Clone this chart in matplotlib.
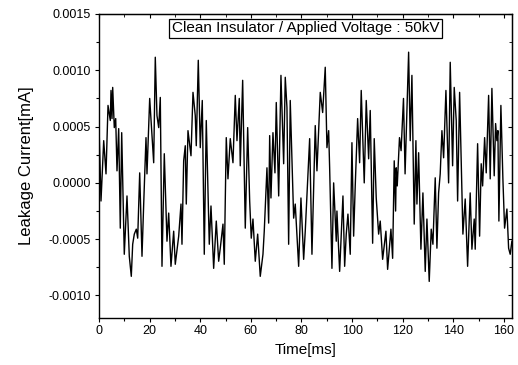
import matplotlib
matplotlib.use("Agg")
import matplotlib.pyplot as plt
from matplotlib.ticker import MultipleLocator, FormatStrFormatter

plt.rcParams['font.family'] = ['Liberation Sans', 'DejaVu Sans']
plt.rcParams['axes.unicode_minus'] = False

time_ms = [0.00, 0.79, 1.86, 2.77, 3.56, 4.46, 4.74, 5.14, 5.41, 6.04, 6.60, 7.11, 7.78, 8.41, 8.97,
           9.99, 11.06, 11.97, 12.76, 13.31, 13.95, 14.74, 15.29, 16.08, 16.99, 17.66, 18.57, 18.96,
           20.03, 21.61, 22.24, 22.91, 23.59, 24.22, 24.89, 25.80, 26.86, 27.54, 28.44, 29.51, 30.14,
           31.49, 32.40, 32.79, 33.46, 34.09, 34.49, 35.16, 36.35, 37.14, 38.04, 38.44, 39.23, 40.02,
           40.81, 41.60, 42.39, 43.58, 44.25, 45.31, 46.34, 47.29, 47.92, 48.99, 49.50, 50.29, 50.96,
           51.87, 52.94, 53.85, 54.52, 55.43, 55.82, 56.77, 57.80, 58.75, 59.54, 60.17, 60.84, 61.75,
           62.70, 63.72, 64.79, 65.30, 66.37, 67.04, 67.44, 67.95, 68.74, 69.53, 70.05, 71.00, 71.90,
           72.97, 73.60, 74.27, 74.94, 75.57, 76.92, 77.55, 78.89, 79.80, 80.87, 81.50, 83.24, 84.15,
           85.45, 86.12, 87.43, 88.38, 89.40, 90.07, 90.75, 91.14, 92.05, 92.72, 93.75, 94.02, 95.09,
           96.40, 97.07, 97.70, 98.37, 99.28, 99.95, 100.62, 101.25, 102.20, 102.99, 103.62, 104.81,
           105.60, 106.55, 107.18, 108.13, 108.76, 109.55, 110.50, 111.13, 112.08, 113.38, 114.05,
           115.36, 116.03, 116.66, 117.21, 117.45, 117.85, 118.74, 119.37, 120.32, 120.95, 122.35,
           122.98, 123.65, 124.56, 125.23, 125.63, 126.30, 127.21, 128.00, 128.91, 129.58, 130.49,
           131.28, 131.95, 132.86, 133.53, 134.20, 134.83, 135.51, 136.18, 137.09, 138.15, 138.79,
           139.73, 140.37, 141.16, 141.71, 142.50, 143.80, 144.71, 145.66, 146.68, 147.36, 148.27,
           148.66, 149.61, 150.40, 151.03, 151.59, 152.38, 153.01, 153.96, 154.59, 155.26, 156.17,
           156.72, 157.23, 157.63, 158.02, 158.81, 159.60, 160.27, 161.19, 161.86, 162.49, 163.16]

current_mA = [0.000509, -0.000161, 0.000375, 0.000080, 0.000688, 0.000554, 0.000821, 0.000571, 0.000848,
              0.000491, 0.000571, 0.000107, 0.000482, -0.000402, 0.000446, -0.000634, -0.000116,
              -0.000652, -0.000830, -0.000545, -0.000455, -0.000411, -0.000491, 0.000089, -0.000652,
              -0.000188, 0.000402, 0.000080, 0.000750, 0.000179, 0.001116, 0.000598, 0.000491,
              0.000759, -0.000741, 0.000259, -0.000518, -0.000268, -0.000741, -0.000429, -0.000723,
              -0.000473, -0.000188, -0.000545, 0.000196, 0.000330, -0.000188, 0.000464, 0.000241,
              0.000804, 0.000598, 0.000330, 0.001089, 0.000313, 0.000732, -0.000634, 0.000554,
              -0.000545, -0.000205, -0.000759, -0.000339, -0.000696, -0.000580, -0.000366, -0.000723,
              0.000402, 0.000036, 0.000393, 0.000179, 0.000777, 0.000375, 0.000750, 0.000152,
              0.000911, -0.000402, 0.000491, -0.000161, -0.000491, -0.000321, -0.000696, -0.000455,
              -0.000830, -0.000634, -0.000429, 0.000134, -0.000357, 0.000420, -0.000134, 0.000446,
              0.000089, 0.000714, -0.000116, 0.000955, 0.000170, 0.000938, 0.000670, -0.000545,
              0.000732, -0.000313, -0.000188, -0.000741, -0.000134, -0.000679, -0.000429, 0.000393,
              -0.000634, 0.000509, 0.000107, 0.000804, 0.000625, 0.001027, 0.000313, 0.000464,
              0.000134, -0.000759, 0.000000, -0.000518, -0.000250, -0.000786, -0.000116, -0.000741,
              -0.000455, -0.000277, -0.000634, 0.000357, -0.000473, -0.000027, 0.000571, 0.000179,
              0.000821, 0.000000, 0.000732, 0.000214, 0.000643, -0.000536, 0.000393, -0.000134,
              -0.000455, -0.000339, -0.000679, -0.000429, -0.000768, -0.000411, -0.000670, 0.000196,
              -0.000250, 0.000134, -0.000027, 0.000402, 0.000286, 0.000750, 0.000080, 0.001161,
              0.000375, 0.000955, -0.000366, 0.000375, -0.000188, 0.000268, -0.000589, -0.000089,
              -0.000786, -0.000321, -0.000875, -0.000411, -0.000545, 0.000045, -0.000580, -0.000089,
              0.000080, 0.000464, 0.000223, 0.000821, 0.000000, 0.001071, 0.000152, 0.000848,
              0.000554, -0.000161, 0.000804, -0.000455, -0.000143, -0.000741, -0.000089, -0.000589,
              -0.000321, -0.000589, 0.000348, -0.000473, 0.000170, -0.000027, 0.000402, 0.000089,
              0.000777, 0.000036, 0.000839, 0.000063, 0.000527, 0.000375, 0.000464, -0.000339,
              0.000688, 0.000036, -0.000402, -0.000232, -0.000580, -0.000634, -0.000518]

title_text = "Clean Insulator / Applied Voltage : 50kV"
x_label = "Time[ms]"
y_label = "Leakage Current[mA]"

fig = plt.figure(figsize=(5.18, 3.65), dpi=100)
ax = fig.add_axes([99/518, 1-318/365, 413/518, 304/365])
ax.plot(time_ms, current_mA, color='black', lw=1.0)

ax.set_xlim(0, 163.2)
ax.set_ylim(-0.0012, 0.0015)
ax.xaxis.set_major_locator(MultipleLocator(20))
ax.xaxis.set_minor_locator(MultipleLocator(10))
ax.yaxis.set_major_locator(MultipleLocator(0.0005))
ax.yaxis.set_minor_locator(MultipleLocator(0.00025))
ax.yaxis.set_major_formatter(FormatStrFormatter('%.4f'))
ax.tick_params(which='major', direction='out', length=3.2, width=0.8, labelsize=9, pad=2)
ax.tick_params(which='minor', direction='out', length=2, width=0.8)
ax.tick_params(axis='y', which='major', pad=3)
for sp in ax.spines.values():
    sp.set_linewidth(1.0)

secx = ax.secondary_xaxis('top')
secx.xaxis.set_major_locator(MultipleLocator(20))
secx.xaxis.set_minor_locator(MultipleLocator(10))
secx.tick_params(which='major', direction='in', length=3, labeltop=False)
secx.tick_params(which='minor', direction='in', length=2)
secy = ax.secondary_yaxis('right')
secy.yaxis.set_major_locator(MultipleLocator(0.0005))
secy.yaxis.set_minor_locator(MultipleLocator(0.00025))
secy.tick_params(which='major', direction='in', length=3, labelright=False)
secy.tick_params(which='minor', direction='in', length=2)

ax.set_xlabel(x_label, fontsize=11, labelpad=4)
ax.set_ylabel(y_label, fontsize=12, labelpad=10)

ax.text(0.5, 0.953, title_text, transform=ax.transAxes, ha='center', va='center', fontsize=11,
        bbox=dict(boxstyle='square,pad=0.18', facecolor='white', edgecolor='black', lw=0.9))

fig.savefig("out.png", dpi=100)
